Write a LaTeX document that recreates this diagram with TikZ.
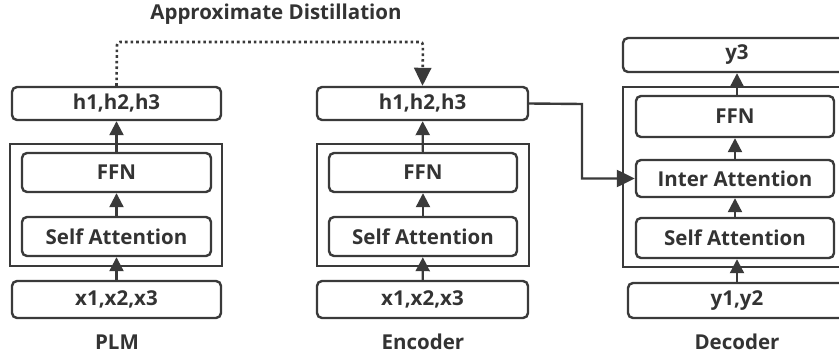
\documentclass[tikz,border=0pt]{standalone}
\usepackage{fontspec}
\setmainfont{Open Sans}
\usetikzlibrary{arrows.meta}
\definecolor{ink}{HTML}{3A3A3A}
\definecolor{txt}{HTML}{333333}
\tikzset{
  x=1pt, y=-1pt,
  blk/.style={draw=ink, line width=2.4pt, rounded corners=5pt, inner sep=0pt,
    font=\bfseries\fontsize{20.5}{22}\selectfont, text=txt},
  frm/.style={draw=ink, line width=2.4pt, inner sep=0pt},
  lbl/.style={font=\bfseries\fontsize{20.5}{22}\selectfont, text=txt},
  arr/.style={draw=ink, line width=2.2pt, -{Triangle[length=14pt,width=14pt]}},
  bigarr/.style={draw=ink, line width=2.4pt, -{Triangle[length=18pt,width=17pt]}},
}
\begin{document}
\begin{tikzpicture}
\useasboundingbox (0,0) rectangle (839,356);
\clip (0,0) rectangle (839,356);
\fill[white] (0,0) rectangle (839,356);

% PLM column
\node[frm, minimum width=212pt, minimum height=122pt] (pf) at (116,205) {};
\node[blk, minimum width=209pt, minimum height=33pt] (ph) at (116.5,103.5) {h1,h2,h3};
\node[blk, minimum width=189pt, minimum height=39pt] (pffn) at (116.5,172.5) {FFN};
\node[blk, minimum width=189pt, minimum height=39pt] (psa) at (116.5,236.5) {Self Attention};
\node[blk, minimum width=209pt, minimum height=37pt] (px) at (116.5,299.5) {x1,x2,x3};
\node[lbl] (plm) at (117,342) {PLM};

% Encoder column
\node[frm, minimum width=212pt, minimum height=122pt] (ef) at (423,205) {};
\node[blk, minimum width=211pt, minimum height=33pt] (eh) at (422.5,103.5) {h1,h2,h3};
\node[blk, minimum width=188pt, minimum height=39pt] (effn) at (423,172.5) {FFN};
\node[blk, minimum width=188pt, minimum height=39pt] (esa) at (423,236.5) {Self Attention};
\node[blk, minimum width=211pt, minimum height=37pt] (ex) at (422.5,299.5) {x1,x2,x3};
\node[lbl] (enc) at (423,342) {Encoder};

% Decoder column (runs past the right edge)
\node[frm, minimum width=228pt, minimum height=180pt] (df) at (737,177) {};
\node[blk, minimum width=228pt, minimum height=34pt] (dy3) at (737,55) {y3};
\node[blk, minimum width=198pt, minimum height=41pt] (dffn) at (735,116.5) {FFN};
\node[blk, minimum width=198pt, minimum height=37pt] (dia) at (735,178.5) {Inter Attention};
\node[blk, minimum width=198pt, minimum height=40pt] (dsa) at (735,238) {Self Attention};
\node[blk, minimum width=218pt, minimum height=35pt] (dy) at (737,300.5) {y1,y2};
\node[lbl] (dec) at (737,342) {Decoder};

% distillation link
\node[lbl] (ad) at (276,14) {Approximate Distillation};
\coordinate (tl) at (117,42);
\coordinate (tr) at (423,42);
\draw[draw=ink, line width=2.6pt, dash pattern=on 2.6pt off 3pt, rounded corners=3pt,
  -{Triangle[length=18pt,width=17pt]}] (ph.north) -- (tl) -- (tr) -- (eh.north);

% vertical flows
\draw[arr] (px) -- (psa);
\draw[arr] (psa) -- (pffn);
\draw[arr] (pffn) -- (ph);
\draw[arr] (ex) -- (esa);
\draw[arr] (esa) -- (effn);
\draw[arr] (effn) -- (eh);
\draw[arr] (dy.north -| dy3) -- (dsa.south -| dy3);
\draw[arr] (dsa) -- (dia);
\draw[arr] (dia) -- (dffn);
\draw[arr] (dffn.north -| dy3) -- (dy3);

% encoder output into the decoder
\coordinate (bend) at (582,104);
\draw[bigarr] (eh.east) -- (bend) |- (dia.west);
\end{tikzpicture}
\end{document}
